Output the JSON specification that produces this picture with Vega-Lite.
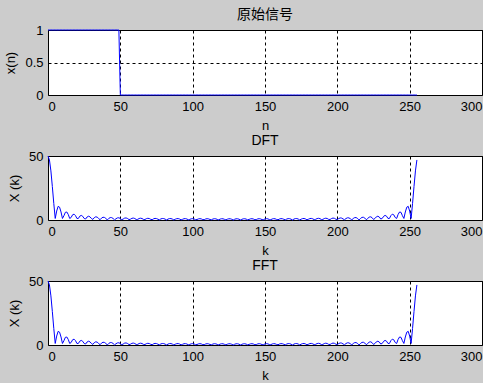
{
"$schema": "https://vega.github.io/schema/vega-lite/v6.json",
"background": "#cccccc",
"padding": {"left": 4, "top": 7, "right": 0, "bottom": 0},
"bounds": "flush",
"spacing": 61,
"config": {
  "view": {"fill": "white", "stroke": "black", "strokeWidth": 1},
  "font": "Liberation Sans",
  "axis": {"labelFont": "Liberation Sans", "labelFontSize": 13, "labelColor": "black", "titleFont": "Liberation Sans", "titleFontSize": 13, "titleColor": "black", "titleFontWeight": "normal", "domain": false, "ticks": false, "grid": true, "gridColor": "black", "gridDash": [3, 3], "gridOpacity": 1, "gridWidth": 1, "labelPadding": 5},
  "title": {"fontSize": 14, "fontWeight": "normal", "color": "black", "offset": 2, "frame": "group", "font": "Liberation Sans"}
},
"datasets": {"d": [
{"k":0,"x":1,"X":50},{"k":1,"x":1,"X":46.93},{"k":2,"x":1,"X":38.37},{"k":3,"x":1,"X":26.19},{"k":4,"x":1,"X":12.93},{"k":5,"x":1,"X":1.2},{"k":6,"x":1,"X":6.99},{"k":7,"x":1,"X":10.66},{"k":8,"x":1,"X":10.01},{"k":9,"x":1,"X":6.26},
{"k":10,"x":1,"X":1.2},{"k":11,"x":1,"X":3.34},{"k":12,"x":1,"X":6.01},{"k":13,"x":1,"X":6.25},{"k":14,"x":1,"X":4.33},{"k":15,"x":1,"X":1.2},{"k":16,"x":1,"X":1.96},{"k":17,"x":1,"X":4.08},{"k":18,"x":1,"X":4.56},{"k":19,"x":1,"X":3.41},
{"k":20,"x":1,"X":1.19},{"k":21,"x":1,"X":1.23},{"k":22,"x":1,"X":3.01},{"k":23,"x":1,"X":3.59},{"k":24,"x":1,"X":2.86},{"k":25,"x":1,"X":1.19},{"k":26,"x":1,"X":0.775},{"k":27,"x":1,"X":2.33},{"k":28,"x":1,"X":2.95},{"k":29,"x":1,"X":2.5},
{"k":30,"x":1,"X":1.19},{"k":31,"x":1,"X":0.461},{"k":32,"x":1,"X":1.85},{"k":33,"x":1,"X":2.5},{"k":34,"x":1,"X":2.23},{"k":35,"x":1,"X":1.18},{"k":36,"x":1,"X":0.229},{"k":37,"x":1,"X":1.49},{"k":38,"x":1,"X":2.16},{"k":39,"x":1,"X":2.03},
{"k":40,"x":1,"X":1.18},{"k":41,"x":1,"X":0.051},{"k":42,"x":1,"X":1.21},{"k":43,"x":1,"X":1.89},{"k":44,"x":1,"X":1.86},{"k":45,"x":1,"X":1.17},{"k":46,"x":1,"X":0.092},{"k":47,"x":1,"X":0.981},{"k":48,"x":1,"X":1.66},{"k":49,"x":1,"X":1.72},
{"k":50,"x":0,"X":1.17},{"k":51,"x":0,"X":0.209},{"k":52,"x":0,"X":0.791},{"k":53,"x":0,"X":1.48},{"k":54,"x":0,"X":1.61},{"k":55,"x":0,"X":1.16},{"k":56,"x":0,"X":0.308},{"k":57,"x":0,"X":0.629},{"k":58,"x":0,"X":1.31},{"k":59,"x":0,"X":1.51},
{"k":60,"x":0,"X":1.15},{"k":61,"x":0,"X":0.392},{"k":62,"x":0,"X":0.489},{"k":63,"x":0,"X":1.17},{"k":64,"x":0,"X":1.414},{"k":65,"x":0,"X":1.14},{"k":66,"x":0,"X":0.465},{"k":67,"x":0,"X":0.364},{"k":68,"x":0,"X":1.04},{"k":69,"x":0,"X":1.33},
{"k":70,"x":0,"X":1.13},{"k":71,"x":0,"X":0.53},{"k":72,"x":0,"X":0.252},{"k":73,"x":0,"X":0.928},{"k":74,"x":0,"X":1.25},{"k":75,"x":0,"X":1.12},{"k":76,"x":0,"X":0.587},{"k":77,"x":0,"X":0.151},{"k":78,"x":0,"X":0.821},{"k":79,"x":0,"X":1.18},
{"k":80,"x":0,"X":1.11},{"k":81,"x":0,"X":0.638},{"k":82,"x":0,"X":0.058},{"k":83,"x":0,"X":0.723},{"k":84,"x":0,"X":1.12},{"k":85,"x":0,"X":1.1},{"k":86,"x":0,"X":0.685},{"k":87,"x":0,"X":0.028},{"k":88,"x":0,"X":0.63},{"k":89,"x":0,"X":1.05},
{"k":90,"x":0,"X":1.09},{"k":91,"x":0,"X":0.727},{"k":92,"x":0,"X":0.108},{"k":93,"x":0,"X":0.542},{"k":94,"x":0,"X":0.989},{"k":95,"x":0,"X":1.07},{"k":96,"x":0,"X":0.765},{"k":97,"x":0,"X":0.184},{"k":98,"x":0,"X":0.458},{"k":99,"x":0,"X":0.928},
{"k":100,"x":0,"X":1.06},{"k":101,"x":0,"X":0.801},{"k":102,"x":0,"X":0.256},{"k":103,"x":0,"X":0.378},{"k":104,"x":0,"X":0.869},{"k":105,"x":0,"X":1.04},{"k":106,"x":0,"X":0.833},{"k":107,"x":0,"X":0.324},{"k":108,"x":0,"X":0.299},{"k":109,"x":0,"X":0.81},
{"k":110,"x":0,"X":1.02},{"k":111,"x":0,"X":0.864},{"k":112,"x":0,"X":0.39},{"k":113,"x":0,"X":0.223},{"k":114,"x":0,"X":0.752},{"k":115,"x":0,"X":1.005},{"k":116,"x":0,"X":0.892},{"k":117,"x":0,"X":0.454},{"k":118,"x":0,"X":0.148},{"k":119,"x":0,"X":0.694},
{"k":120,"x":0,"X":0.986},{"k":121,"x":0,"X":0.918},{"k":122,"x":0,"X":0.515},{"k":123,"x":0,"X":0.074},{"k":124,"x":0,"X":0.635},{"k":125,"x":0,"X":0.964},{"k":126,"x":0,"X":0.942},{"k":127,"x":0,"X":0.576},{"k":128,"x":0,"X":0},{"k":129,"x":0,"X":0.576},
{"k":130,"x":0,"X":0.942},{"k":131,"x":0,"X":0.964},{"k":132,"x":0,"X":0.635},{"k":133,"x":0,"X":0.074},{"k":134,"x":0,"X":0.515},{"k":135,"x":0,"X":0.918},{"k":136,"x":0,"X":0.986},{"k":137,"x":0,"X":0.694},{"k":138,"x":0,"X":0.148},{"k":139,"x":0,"X":0.454},
{"k":140,"x":0,"X":0.892},{"k":141,"x":0,"X":1.005},{"k":142,"x":0,"X":0.752},{"k":143,"x":0,"X":0.223},{"k":144,"x":0,"X":0.39},{"k":145,"x":0,"X":0.864},{"k":146,"x":0,"X":1.02},{"k":147,"x":0,"X":0.81},{"k":148,"x":0,"X":0.299},{"k":149,"x":0,"X":0.324},
{"k":150,"x":0,"X":0.833},{"k":151,"x":0,"X":1.04},{"k":152,"x":0,"X":0.869},{"k":153,"x":0,"X":0.378},{"k":154,"x":0,"X":0.256},{"k":155,"x":0,"X":0.801},{"k":156,"x":0,"X":1.06},{"k":157,"x":0,"X":0.928},{"k":158,"x":0,"X":0.458},{"k":159,"x":0,"X":0.184},
{"k":160,"x":0,"X":0.765},{"k":161,"x":0,"X":1.07},{"k":162,"x":0,"X":0.989},{"k":163,"x":0,"X":0.542},{"k":164,"x":0,"X":0.108},{"k":165,"x":0,"X":0.727},{"k":166,"x":0,"X":1.09},{"k":167,"x":0,"X":1.05},{"k":168,"x":0,"X":0.63},{"k":169,"x":0,"X":0.028},
{"k":170,"x":0,"X":0.685},{"k":171,"x":0,"X":1.1},{"k":172,"x":0,"X":1.12},{"k":173,"x":0,"X":0.723},{"k":174,"x":0,"X":0.058},{"k":175,"x":0,"X":0.638},{"k":176,"x":0,"X":1.11},{"k":177,"x":0,"X":1.18},{"k":178,"x":0,"X":0.821},{"k":179,"x":0,"X":0.151},
{"k":180,"x":0,"X":0.587},{"k":181,"x":0,"X":1.12},{"k":182,"x":0,"X":1.25},{"k":183,"x":0,"X":0.928},{"k":184,"x":0,"X":0.252},{"k":185,"x":0,"X":0.53},{"k":186,"x":0,"X":1.13},{"k":187,"x":0,"X":1.33},{"k":188,"x":0,"X":1.04},{"k":189,"x":0,"X":0.364},
{"k":190,"x":0,"X":0.465},{"k":191,"x":0,"X":1.14},{"k":192,"x":0,"X":1.414},{"k":193,"x":0,"X":1.17},{"k":194,"x":0,"X":0.489},{"k":195,"x":0,"X":0.392},{"k":196,"x":0,"X":1.15},{"k":197,"x":0,"X":1.51},{"k":198,"x":0,"X":1.31},{"k":199,"x":0,"X":0.629},
{"k":200,"x":0,"X":0.308},{"k":201,"x":0,"X":1.16},{"k":202,"x":0,"X":1.61},{"k":203,"x":0,"X":1.48},{"k":204,"x":0,"X":0.791},{"k":205,"x":0,"X":0.209},{"k":206,"x":0,"X":1.17},{"k":207,"x":0,"X":1.72},{"k":208,"x":0,"X":1.66},{"k":209,"x":0,"X":0.981},
{"k":210,"x":0,"X":0.092},{"k":211,"x":0,"X":1.17},{"k":212,"x":0,"X":1.86},{"k":213,"x":0,"X":1.89},{"k":214,"x":0,"X":1.21},{"k":215,"x":0,"X":0.051},{"k":216,"x":0,"X":1.18},{"k":217,"x":0,"X":2.03},{"k":218,"x":0,"X":2.16},{"k":219,"x":0,"X":1.49},
{"k":220,"x":0,"X":0.229},{"k":221,"x":0,"X":1.18},{"k":222,"x":0,"X":2.23},{"k":223,"x":0,"X":2.5},{"k":224,"x":0,"X":1.85},{"k":225,"x":0,"X":0.461},{"k":226,"x":0,"X":1.19},{"k":227,"x":0,"X":2.5},{"k":228,"x":0,"X":2.95},{"k":229,"x":0,"X":2.33},
{"k":230,"x":0,"X":0.775},{"k":231,"x":0,"X":1.19},{"k":232,"x":0,"X":2.86},{"k":233,"x":0,"X":3.59},{"k":234,"x":0,"X":3.01},{"k":235,"x":0,"X":1.23},{"k":236,"x":0,"X":1.19},{"k":237,"x":0,"X":3.41},{"k":238,"x":0,"X":4.56},{"k":239,"x":0,"X":4.08},
{"k":240,"x":0,"X":1.96},{"k":241,"x":0,"X":1.2},{"k":242,"x":0,"X":4.33},{"k":243,"x":0,"X":6.25},{"k":244,"x":0,"X":6.01},{"k":245,"x":0,"X":3.34},{"k":246,"x":0,"X":1.2},{"k":247,"x":0,"X":6.26},{"k":248,"x":0,"X":10.01},{"k":249,"x":0,"X":10.66},
{"k":250,"x":0,"X":6.99},{"k":251,"x":0,"X":1.2},{"k":252,"x":0,"X":12.93},{"k":253,"x":0,"X":26.19},{"k":254,"x":0,"X":38.37},{"k":255,"x":0,"X":46.93}
]},
"vconcat": [
 {
  "title": {"text": "原始信号", "font": "Noto Sans CJK SC"},
  "width": 434, "height": 65,
  "data": {"name": "d"},
  "mark": {"type": "line", "color": "#0000ff", "strokeWidth": 1},
  "encoding": {
   "x": {"field": "k", "type": "quantitative", "scale": {"domain": [0, 300], "nice": false, "zero": false}, "axis": {"values": [0, 50, 100, 150, 200, 250, 300], "title": "n", "titlePadding": 6}},
   "y": {"field": "x", "type": "quantitative", "scale": {"domain": [0, 1], "nice": false}, "axis": {"values": [0, 0.5, 1], "format": ".1~f", "title": "x(n)", "titlePadding": 7}}
  }
 },
 {
  "title": {"text": "DFT"},
  "width": 434, "height": 64,
  "data": {"name": "d"},
  "mark": {"type": "line", "color": "#0000ff", "strokeWidth": 1},
  "encoding": {
   "x": {"field": "k", "type": "quantitative", "scale": {"domain": [0, 300], "nice": false, "zero": false}, "axis": {"values": [0, 50, 100, 150, 200, 250, 300], "title": "k", "titlePadding": 6}},
   "y": {"field": "X", "type": "quantitative", "scale": {"domain": [0, 50], "nice": false}, "axis": {"values": [0, 50], "format": "d", "title": "X (k)", "titlePadding": 7}}
  }
 },
 {
  "title": {"text": "FFT"},
  "width": 434, "height": 64,
  "data": {"name": "d"},
  "mark": {"type": "line", "color": "#0000ff", "strokeWidth": 1},
  "encoding": {
   "x": {"field": "k", "type": "quantitative", "scale": {"domain": [0, 300], "nice": false, "zero": false}, "axis": {"values": [0, 50, 100, 150, 200, 250, 300], "title": "k", "titlePadding": 6}},
   "y": {"field": "X", "type": "quantitative", "scale": {"domain": [0, 50], "nice": false}, "axis": {"values": [0, 50], "format": "d", "title": "X (k)", "titlePadding": 7}}
  }
 }
]
}
